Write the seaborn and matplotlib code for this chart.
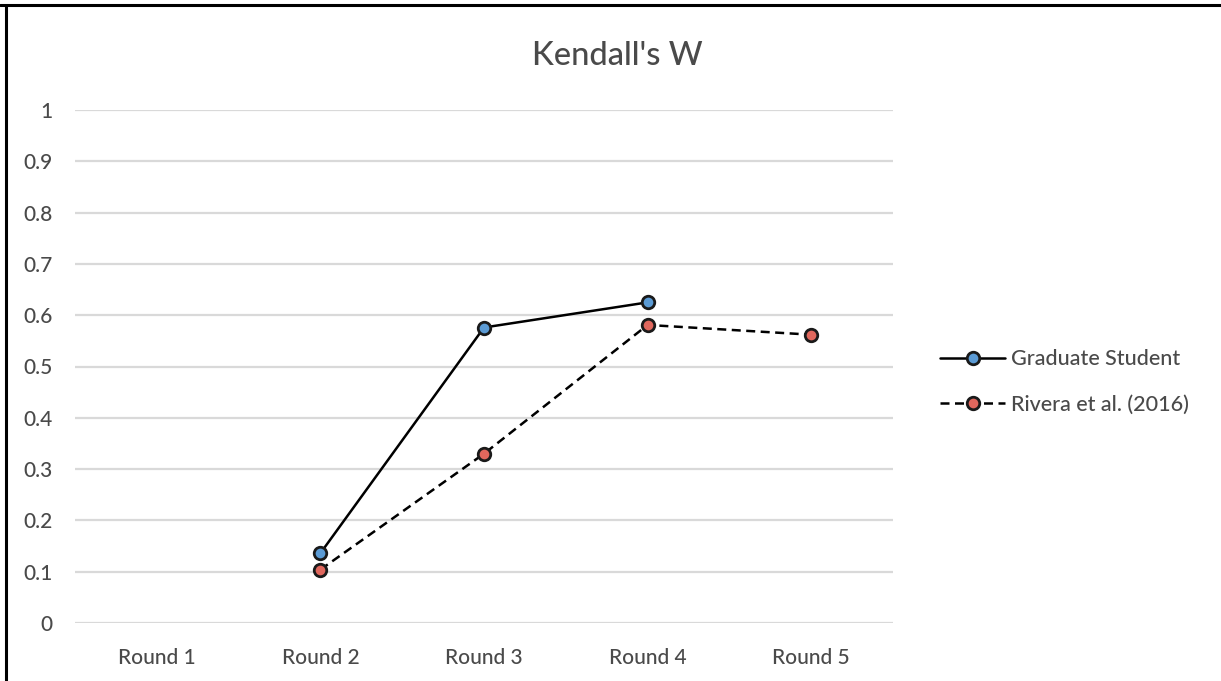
import matplotlib
matplotlib.use("Agg")
import matplotlib.pyplot as plt
from matplotlib.lines import Line2D
import numpy as np
import pandas as pd
import seaborn as sns

# Kendall's W agreement per Delphi round
rounds = ["Round 1", "Round 2", "Round 3", "Round 4", "Round 5"]
graduate_student = [np.nan, 0.136, 0.576, 0.625, np.nan]
rivera_2016 = [np.nan, 0.104, 0.330, 0.581, 0.562]
y_ticks = [0, 0.1, 0.2, 0.3, 0.4, 0.5, 0.6, 0.7, 0.8, 0.9, 1]
y_tick_labels = ["0", "0.1", "0.2", "0.3", "0.4", "0.5", "0.6", "0.7", "0.8", "0.9", "1"]

sns.set_theme(style="white")
plt.rcParams["font.family"] = ["Lato", "DejaVu Sans"]
plt.rcParams["font.weight"] = "medium"

text_color = "#4a4a4a"
grid_color = "#d9d9d9"

W, H = 1221, 681
fig = plt.figure(figsize=(W / 100, H / 100), dpi=100)
ax = fig.add_axes([75 / W, (H - 623) / H, (893 - 75) / W, (623 - 110) / H])

df = pd.DataFrame({
    "pos": np.arange(len(rounds)),
    "Graduate Student": graduate_student,
    "Rivera et al. (2016)": rivera_2016,
})

common = dict(marker="o", markersize=9, markeredgecolor="#1a1a1a",
              markeredgewidth=2.0, linewidth=1.8, color="black", zorder=3)

sns.lineplot(data=df, x="pos", y="Graduate Student", ax=ax,
             markerfacecolor="#5b9bd5", linestyle="-",
             label="Graduate Student", **common)
sns.lineplot(data=df, x="pos", y="Rivera et al. (2016)", ax=ax,
             markerfacecolor="#e0675d", linestyle=(0, (3.6, 2.2)),
             label="Rivera et al. (2016)", **common)

ax.set_xlim(-0.5, len(rounds) - 0.5)
ax.set_ylim(0, 1)
ax.set_xticks(np.arange(len(rounds)))
ax.set_xticklabels(rounds)
ax.set_yticks(y_ticks)
ax.set_yticklabels(y_tick_labels)
ax.set_xlabel("")
ax.set_ylabel("")

for v in y_ticks:
    ax.axhline(v, color=grid_color, linewidth=1.6, zorder=1)

for s in ax.spines.values():
    s.set_visible(False)
ax.tick_params(axis="both", length=0, labelsize=15, colors=text_color)
ax.tick_params(axis="x", pad=18)
ax.tick_params(axis="y", pad=16)

fig.text(617 / W, (H - 56) / H, "Kendall's W", ha="center", va="center",
         fontsize=23.5, color=text_color)

leg = ax.legend(loc="center left", bbox_to_anchor=(921 / W, (H - 382) / H),
                bbox_transform=fig.transFigure, frameon=False,
                fontsize=15.5, handlelength=3.0, handletextpad=0.3,
                labelspacing=1.2, labelcolor=text_color)

# black frame on the top and left edges
fig.add_artist(Line2D([0, 1], [1 - 5 / H, 1 - 5 / H], transform=fig.transFigure,
                      color="black", linewidth=2.2))
fig.add_artist(Line2D([6 / W, 6 / W], [0, 1 - 5 / H], transform=fig.transFigure,
                      color="black", linewidth=2.2))

fig.savefig("out.png", dpi=100, facecolor="white")
